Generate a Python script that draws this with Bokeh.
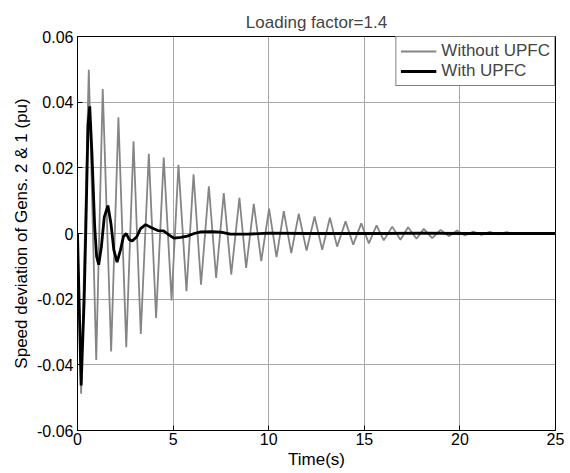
from bokeh.plotting import figure
from bokeh.models import FixedTicker, Range1d, Legend, LegendItem
from bokeh.embed import file_html
from bokeh.resources import INLINE

# Without UPFC (grey) - extremes
t_without = [0, 0.19, 0.59, 0.98, 1.32, 1.76, 2.14, 2.55, 2.93, 3.31, 3.73, 4.11, 4.51, 4.92,
             5.28, 5.70, 6.07, 6.46, 6.87, 7.25, 7.65, 8.04, 8.47, 8.82, 9.22, 9.61, 10.02,
             10.41, 10.79, 11.18, 11.57, 11.98, 12.40, 12.80, 13.20, 13.58, 14.02, 14.42,
             14.84, 15.24, 15.64, 16.02, 16.46, 16.89, 17.29, 17.73, 18.11, 18.55, 18.99,
             19.42, 19.86, 20.26, 20.70, 21.13, 21.56, 22.0, 22.44, 22.85, 23.3, 23.7, 24.1,
             24.5, 25]
v_without = [0, -0.0488, 0.0499, -0.0385, 0.0440, -0.0359, 0.0354, -0.0346, 0.0281, -0.0306,
             0.0243, -0.0257, 0.0231, -0.0204, 0.0209, -0.0176, 0.0180, -0.0156, 0.0144,
             -0.0135, 0.0123, -0.0125, 0.0109, -0.0105, 0.0090, -0.0084, 0.0076, -0.0072,
             0.0068, -0.0060, 0.0060, -0.0052, 0.0052, -0.0050, 0.0048, -0.0040, 0.0037,
             -0.0034, 0.0031, -0.0030, 0.0025, -0.0021, 0.0021, -0.0019, 0.0019, -0.0016,
             0.0014, -0.0014, 0.0011, -0.0008, 0.0009, -0.0006, 0.0006, -0.0004, 0.0005,
             -0.0003, 0.0004, -0.0002, 0.0002, -0.0001, 0.0001, -0.0001, 0]

# With UPFC (black)
t_with = [0, 0.19, 0.35, 0.45, 0.55, 0.64, 0.75, 0.9, 1.0, 1.11, 1.25, 1.4, 1.59, 1.75, 1.9,
          2.07, 2.25, 2.4, 2.55, 2.7, 2.86, 3.1, 3.3, 3.56, 3.85, 4.2, 4.5, 4.8, 5.04, 5.4,
          5.74, 6.1, 6.45, 7.0, 7.5, 8.0, 8.9, 10.0, 12.0, 14.0, 16.0, 18.0, 20.0, 22.0, 25.0]
v_with = [0, -0.0463, -0.02, 0.005, 0.033, 0.0387, 0.025, 0.002, -0.007, -0.0095, -0.004,
          0.005, 0.0085, 0.003, -0.005, -0.0087, -0.005, -0.001, 0.0, -0.0018, -0.0023,
          -0.001, 0.0015, 0.0027, 0.0018, 0.0009, 0.0008, -0.0005, -0.0014, -0.0012,
          -0.0008, 0.0, 0.0005, 0.0006, 0.0004, -0.0002, -0.0002, 0.0001, 0.0, 0.0, 0.0,
          0.0001, 0.0, 0.0, 0.0]

x_ticks = [0, 5, 10, 15, 20, 25]
y_ticks = [-0.06, -0.04, -0.02, 0, 0.02, 0.04, 0.06]
y_tick_labels = ["-0.06", "-0.04", "-0.02", "0", "0.02", "0.04", "0.06"]

FONT = "Liberation Sans"

p = figure(width=570, height=473, output_backend="svg", toolbar_location=None,
           x_range=Range1d(0, 25), y_range=Range1d(-0.06, 0.06),
           min_border_left=77, min_border_right=15, min_border_top=36, min_border_bottom=43,
           title="Loading factor=1.4")

p.title.text_font = FONT
p.title.text_font_size = "17px"
p.title.text_font_style = "normal"
p.title.align = "center"
p.title.offset = 0
p.title.standoff = 9

for ax in (p.xaxis[0], p.yaxis[0]):
    ax.major_label_text_font = FONT
    ax.major_label_text_font_size = "16px"
    ax.axis_label_text_font = FONT
    ax.axis_label_text_font_size = "17px"
    ax.axis_label_text_font_style = "normal"
    ax.major_tick_in = 5
    ax.major_tick_out = 0
    ax.minor_tick_line_color = None
    ax.axis_line_color = "black"
    ax.major_tick_line_color = "black"
    ax.major_label_text_color = "black"
    ax.axis_label_text_color = "black"

p.xaxis.ticker = FixedTicker(ticks=x_ticks)
p.yaxis.ticker = FixedTicker(ticks=y_ticks)
p.yaxis.major_label_overrides = {v: s for v, s in zip(y_ticks, y_tick_labels)}
p.xaxis.axis_label = "Time(s)"
p.yaxis.axis_label = "Speed deviation of Gens. 2 & 1 (pu)"
p.xaxis.major_label_standoff = 2
p.yaxis.major_label_standoff = 4
p.xaxis.axis_label_standoff = 2
p.yaxis.axis_label_standoff = 3

p.xgrid.grid_line_color = "#a8a8a8"
p.ygrid.grid_line_color = "#a8a8a8"
p.xgrid.grid_line_width = 1
p.ygrid.grid_line_width = 1

p.outline_line_color = "black"
p.outline_line_width = 1
p.background_fill_color = "white"
p.border_fill_color = "white"

r1 = p.line(t_without, v_without, line_color="#858585", line_width=1.8)
r2 = p.line(t_with, v_with, line_color="black", line_width=2.8)

legend = Legend(items=[LegendItem(label="Without UPFC", renderers=[r1]),
                       LegendItem(label="With UPFC", renderers=[r2])],
                location="top_right", margin=0, padding=4, spacing=0,
                label_text_font=FONT, label_text_font_size="17px",
                label_height=18, glyph_height=18,
                glyph_width=36, label_standoff=5,
                border_line_color="black", border_line_width=1,
                background_fill_alpha=1)
p.add_layout(legend)

open("out.html", "w").write(file_html(p, INLINE))
